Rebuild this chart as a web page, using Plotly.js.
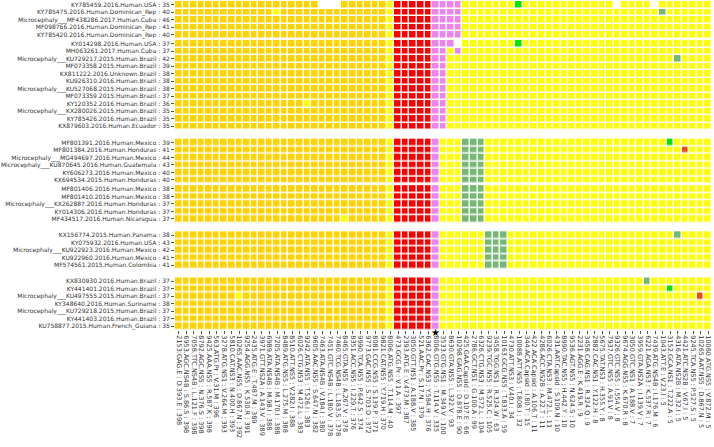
<!DOCTYPE html>
<html><head><meta charset="utf-8">
<script src="https://cdn.plot.ly/plotly-3.0.1.min.js"></script>
<style>html,body{margin:0;padding:0;background:#fff}</style>
</head><body><div id="chart" style="width:714px;height:447px"></div>
<script>
// ---- DATA ----
const mutationLabels = [
"2153.GAG.E : D.393.E : 398","6953.AGC.NS4B : S.86.S : 398","7058.TTC.NS4B : L.121.F : 398","8792.AGC.NS5 : N.376.S : 398",
"9425.AAA.NS5 : R.587.K : 398","563.ATG.Pr : V.31.M : 396","3278.ATG.NS1 : V.264.M : 393","5810.CAT.NS3 : N.400.H : 393",
"10265.AAC.NS5 : D.867.N : 392","9254.AGG.NS5 : K.530.R : 391","2435.ATG.E : T.487.M : 389","3971.GTT.NS2A : A.143.V : 389",
"6989.ATA.NS4B : M.98.I : 388","7205.ATA.NS4B : M.170.I : 388","8489.ATG.NS5 : L.275.M : 388","8510.ATT.NS5 : V.282.I : 388",
"6026.CTG.NS3 : M.472.L : 383","9242.ATA.NS5 : T.526.I : 383","9605.AAC.NS5 : S.647.N : 382","7463.ATA.NS4B : V.184.I : 380",
"7451.GTC.NS4B : L.180.V : 378","7460.TCG.NS4B : L.183.S : 378","8465.GTA.NS5 : A.267.V : 378","8351.ACC.NS5 : I.229.T : 376",
"9990.TCA.NS5 : P.642.S : 374","9773.GAC.NS5 : S.703.D : 372","8081.CCG.NS5 : S.139.P : 371","9821.CAT.NS5 : Y.719.H : 370",
"8006.ATG.NS5 : T.114.M : 40","473.GCG.Pr : V.1.A : 397","2393.ATG.E : V.473.M : 387","3050.GTT.NS1 : A.188.V : 385",
"521.AAC.Pr : S.17.N : 379","6362.CAC.NS3 : Y.584.H : 376","8006.GTG.NS5 : T.114.V : 335","3533.GTG.NS1 : M.349.V : 100",
"8630.GTA.NS5 : L.322.V : 93","10298.GAG.NS5 : D.878.E : 90","425.GAA.Capsid : D.107.E : 66","2786.GCT.NS1 : G.100.A : 99",
"6326.CTG.NS3 : M.572.L : 104","9239.TGC.NS5 : R.525.C : 105","3458.TGG.NS1 : R.324.W : 63","10163.GCG.NS5 : T.833.A : 59",
"4730.ATT.NS3 : V.40.I : 34","10088.ATT.NS5 : T.808.I : 32","344.ACA.Capsid : I.80.T : 15","422.ACA.Capsid : A.106.T : 11",
"4286.ACC.NS2B : A.22.T : 11","6026.CTA.NS3 : M.472.L : 11","431.AAT.Capsid : S.109.N : 10","8990.TAC.NS5 : H.442.Y : 10",
"9536.AGT.NS5 : N.624.S : 10","2231.AGG.E : K.419.R : 9","3458.CAG.NS1 : R.324.Q : 9","2882.CAC.NS1 : Y.122.H : 8",
"5675.TAT.NS3 : H.355.Y : 8","7937.GTC.NS5 : A.91.V : 8","9326.GTC.NS5 : I.554.V : 8","9674.AGG.NS5 : K.670.R : 8",
"3050.GTC.NS1 : A.188.V : 7","3959.GTA.NS2A : I.139.V : 7","6221.AGA.NS3 : K.537.R : 7","7439.ATG.NS4B : I.176.M : 6",
"1043.ATT.E : V.23.I : 5","3152.GCA.NS1 : T.222.A : 5","4316.ATA.NS2B : M.32.I : 5","4421.ATC.NS2B : V.67.I : 5",
"9245.TCA.NS5 : P.527.S : 5","10265.AAT.NS5 : D.867.N : 5","10080.ATG.NS5 : V.872.M : 5"
];
const starredMutation = "8006.GTG.NS5 : T.114.V : 335";

const sampleLabels = [
"KY785459.2016.Human.USA : 35","KY785475.2016.Human.Dominican_Rep : 40","Microcephaly___MF438286.2017.Human.Cuba : 46",
"MF098766.2016.Human.Dominican_Rep : 41","KY785420.2016.Human.Dominican_Rep : 40",
"KY014298.2016.Human.USA : 37","MH063261.2017.Human.Cuba : 37","Microcephaly___KU729217.2015.Human.Brazil : 42",
"MF073358.2015.Human.Brazil : 39","KX811222.2016.Unknown.Brazil : 38","KU926310.2016.Human.Brazil : 38",
"Microcephaly___KU527068.2015.Human.Brazil : 38","MF073359.2015.Human.Brazil : 37","KY120352.2016.Human.Brazil : 36",
"Microcephaly___KX280026.2015.Human.Brazil : 35","KY785426.2016.Human.Brazil : 35","KX879603.2016.Human.Ecuador : 35",
"MF801391.2016.Human.Mexico : 39","MF801384.2016.Human.Honduras : 41","Microcephaly___MG494697.2016.Human.Mexico : 44",
"Microcephaly___KU870645.2016.Human.Guatemala : 43","KY606273.2016.Human.Mexico : 40","KX694534.2015.Human.Honduras : 40",
"MF801406.2016.Human.Mexico : 38","MF801410.2016.Human.Mexico : 38","Microcephaly___KX262887.2016.Human.Honduras : 37",
"KY014306.2016.Human.Honduras : 37","MF434517.2016.Human.Nicaragua : 37",
"KX156774.2015.Human.Panama : 38","KY075932.2016.Human.USA : 43","Microcephaly___KU922923.2016.Human.Mexico : 42",
"KU922960.2016.Human.Mexico : 41","MF574561.2015.Human.Colombia : 41",
"KX830930.2016.Human.Brazil : 37","KY441401.2016.Human.Brazil : 37","Microcephaly___KU497555.2015.Human.Brazil : 37",
"KY348640.2016.Human.Suriname : 38","Microcephaly___KU729218.2015.Human.Brazil : 37","KY441403.2016.Human.Brazil : 37",
"KU758877.2015.Human.French_Guiana : 35"
];
const clusterSizes = [5, 12, 6, 5, 5, 7];

// cell states per sample, 71 mutations each (spaces only for readability, every 10 columns)
// G=gold Y=yellow R=red V=violet L=bright green g=muted green O=orange-red W=empty
const cellStates = [
"GGGGGGGGGG GGGGGGGGGW WWGGGGGGYR RRRRVVVVYY YYYYYLYYYY YYYYYYYYWY YYYWYYYYYY Y",
"GGGGGGGGGG GGGYGGGGGG GGGGGGGGYR RRRRVVVVYY YYYYYYYYYY YYYYYYYYYY YYYYgYYYYY Y",
"GGGGGGGGGG GGGGGGGGGG GGGGGGGGYR RRRRVVVVYY YYYYYYYYYY YYYYYYYYYY YYYYYYYYYY Y",
"GGGGGGGGGG GGGGGGGGGG GGGGGGGGYR RRRRVVVVYY YYYYYYYYYY YYYYYYYYYY YYYYYYYYYY Y",
"GGGGGGGGGG GGGGGGGGGG GGGGGGGGYR RRRRVVVVYY YYYYYYYYYY YYYYYYYYYY YYYYYYYYYY Y",
"GGGGGGGGGG GGGGGGGGGG GGGGGGGGYR RRRRVVVWYY YYYYYLYYYY YYYYYYYYYY YYYYYYYYYY Y",
"GGGGGGGGGG GGGGGGGGGG GGGGGGGGYR RRRRVVYVYY YYYYYYYYYY YYYYYYYYYY YYYYYYYYYY Y",
"GGGGGGGGGG GGGGGGGGGG GGGGGGGGYR RRRRVVYYYY YYYYYYYYYY YYYYYYYYYY YYYYYYgYYY Y",
"GGGGGGGGGG GGGGGGGGGG GGGGGGGGYR RRRRVVYYYY YYYYYYYYYY YYYYYYYYYY YYYYYYYYYY Y",
"GGGGGGGGGG GGGGGGGGGG GGGGGGGGYR RRRRVVYYYY YYYYYYYYYY YYYYYYYYYY YYYYYYYYYY Y",
"GGGGGGGGGG GGGGGGGGGG GGGGGGGGYR RRRRVVYYYY YYYYYYYYYY YYYYYYYYYY YYYYYYYYYY Y",
"GGGGGGGGGG GGGGGGGGGG GGGGGGGGYR RRRRVVYYYY YYYYYYYYYY YYYYYYYYYY YYYYYYYYYY Y",
"GGGGGGGGGG GGGGGGGGGG GGGGGGGGYR RRRRVVYYYY YYYYYYYYYY YYYYYYYYYY YYYYYYYYYY Y",
"GGGGGGGGGG GGGGGGGYGG GGGGGGGGYR RRRRVVYYYY YYYYYYYYYY YYYYYYYYYY YYYYYYYYYY Y",
"GGGGGGGGGG GGGGGGGGGG GGGGGGGGYR RRRRVVYYYY YYYYYYYYYY YYYYYYYYYY YYYYYYYYYY Y",
"GGGGGGGGGG GGGGGGGGGG GGGGGGGGYR RRRRVVYYYY YYYYYYYYYY YYYYYYYYYY YYYYYYYYYY Y",
"GGGGGGGGGG GGGGGGGGGG GGGGGGGGYR RRRRVVYYYY YYYYYYYYYY YYYYYYYYYY YYYYYYYYYY Y",
"GGGGGGGGGG GGGGGGGGGG GGGGGGGGYR RRRRVYYYgg gYYYYYYYYY YYYYYYYYYY YYYYYLYYYY Y",
"GGGGGGGGGG GGGGGGGGGG GGGGGGGGYR RRRRVYYYgg gYYYYYYYYY YYYYYYYYYY YYYYYYYOYY Y",
"GGGGGGGGGG GGGGGGGGGG GGGGGGGGYR RRRRVYYYgg gYYYYYYYYY YYYYYYYYYY YYYYYYYYYY Y",
"GGGGGGGGGG GGGGGGGGGG GGGGGGGGYR RRRRVYYYgg gYYYYYYYYY YYYYYYYYYY YYYYYYYYYY Y",
"GGGGGGGGGG GGGGGGGGGG GGGGGGGGYR RRRRVYYYgg gYYYYYYYYY YYYYYYYYYY YYYYYYYYYY Y",
"GGGGGGGGGG GGGGGGGGGG GGGGGGGGYR RRRRVYYYgg gYYYYYYYYY YYYYYYYYYY YYYYYYYYYY Y",
"GGGGGGGGGG GGGGGGGGGG GGGGGGGGYR RRRRVYYYgg gYYYYYYYYY YYYYYYYYYY YYYYYYYYYY Y",
"GGGGGGGGGG GGGGGGGGGG GGGGGGGGYR RRRRVYYYgg gYYYYYYYYY YYYYYYYYYY YYYYYYYYYY Y",
"GGGGGGGGGG GGGGGGGGGG GGGGGGGGYR RRRRVYYYgg gYYYYYYYYY YYYYYYYYYY YYYYYYYYYY Y",
"GGGGGGGGGG GGGGGGGGGG GGGGGGGGYR RRRRVYYYgg gYYYYYYYYY YYYYYYYYYY YYYYYYYYYY Y",
"GGGGGGGGGG GGGGGGGGGG GGYGGGGGYR RRRRVYYYgg gYYYYYYYYY YYYYYYYYYY YYYYYYYYYY Y",
"GGGGGGGGGG GGGGGGGGGG GGGGGGGGYR RRRRVYYYYY YgggYYYYYY YYYYYYYYYY YYYYYYgYYY Y",
"GGGGGGGGGG GGGGGGGGGG GGGGGGGGYR RRRRVYYYYY YgggYYYYYY YYYYYYYYYY YYYYYYYYYY Y",
"GGGGGGGGGG GGGGGGGGGG GGGGGGGGYR RRRRVYYYYY YgggYYYYYY YYYYYYYYYY YYYYYYYYYY Y",
"GGGGGGGGGG GGGGGGGGGG GGGGGGGGYR RRRRVYYYYY YgggYYYYYY YYYYYYYYYY YYYYYYYYYY Y",
"GGGGGGGGGG GGGGGGGGGG GGGGGGGGYR RRRRVYYYYY YgggYYYYYY YYYYYYYYYY YYYYYYYYYY Y",
"GGGGGGGGGG GGGGGGGGGG GGGGGGGGYR RRRRVYYYYY YYYYYYYYYY YYYYYYYYYY YYgYYYYYYY Y",
"GGGGGGGGGG GGGGGGGGGG GGGGGGGGYR RRRRVYYYYY YYYYYYYYYY YYYYYYYYYY YYYYYLYYYY Y",
"GGGGGGGGYG GGGGGGGGGG GGGGGGGGYR RRRRVYYYYY YYYYYYYYYY YYYYYYYYYY YYYYYYYYYO Y",
"GGGGGGGGGG GGGGGGGGGG GGGGGGGGYR RRRRVYYYYY YYYYYYYYYY YYYYYYYYYY YYYYYYYYYY Y",
"GGGGGGGGGG GGGGGGGGGG GGGGGGGGYR RRRRVYYYYY YYYYYYYYYY YYYYYYYYYY YYYYYYYYYY Y",
"GGGGGGGGGG GGGGGGGGGG GGGGGGGGYR RRRRVYYYYY YYYYYYYYYY YYYYYYYYYY YYYYYYYYYY Y",
"GGGGGGGGGG GGGGGGGGGG GGGGGGGGYR RRRRVYYYYY YYYYYYYYYY YYYYYYYYYY YYYYYYYYYY Y"
];
const stateCodes = ["W","G","Y","R","V","L","g","O"];
const stateColors = ["#ffffff","#ffd200","#ffff00","#ff0000","#ee82ee","#00e600","#74b874","#f24a12"];

// ---- LAYOUT helpers (positions, not data) ----
const clusterGapsAfter = [0.2, 1.15, 0.2, 1.15, 1.15]; // extra spacing between clusters (in rows)

const ncodes = stateCodes.length;
const colorscale = [];
stateColors.forEach((c, k) => { colorscale.push([k / ncodes, c]); colorscale.push([(k + 1) / ncodes, c]); });

const traces = [];
const tickvals = [], ticktext = [];
let rowIdx = 0, pos = 0;
clusterSizes.forEach((n, ci) => {
  const ys = [], zs = [];
  for (let i = 0; i < n; i++) {
    const s = cellStates[rowIdx].replace(/ /g, "");
    zs.push(s.split("").map(ch => stateCodes.indexOf(ch)));
    ys.push(pos);
    tickvals.push(pos); ticktext.push(sampleLabels[rowIdx]);
    rowIdx++; pos += 1;
  }
  if (ci < clusterGapsAfter.length) pos += clusterGapsAfter[ci];
  traces.push({
    type: "heatmap", x: mutationLabels, y: ys, z: zs,
    colorscale: colorscale, zmin: -0.5, zmax: ncodes - 0.5, showscale: false,
    xgap: 1.5, ygap: 1.5, hoverinfo: "skip"
  });
});
const ymax = pos - 1;

const font = {family: "DejaVu Sans, Verdana, sans-serif", size: 6, color: "#333"};
const layout = {
  width: 714, height: 447,
  margin: {l: 175, r: 2, t: 1, b: 117, pad: 0},
  paper_bgcolor: "#fff", plot_bgcolor: "#fff",
  showlegend: false,
  xaxis: {type: "category", categoryarray: mutationLabels, tickangle: 90,
    tickmode: "array", tickvals: mutationLabels, ticktext: mutationLabels,
    ticks: "outside", ticklen: 3, tickwidth: 1, tickcolor: "#555",
    tickfont: Object.assign({}, font, {size: 6.5}), showgrid: false, zeroline: false, showline: false, automargin: false},
  yaxis: {range: [ymax + 0.5, -0.5], tickmode: "array", tickvals: tickvals, ticktext: ticktext,
    ticks: "outside", ticklen: 3, tickwidth: 1, tickcolor: "#555",
    tickfont: font, showgrid: false, zeroline: false, showline: false, automargin: false},
  annotations: [{x: starredMutation, xref: "x", y: 0, yref: "paper", text: "★", showarrow: false,
    yanchor: "middle", yshift: -2, font: {size: 10, color: "#000"}}]
};
Plotly.newPlot("chart", traces, layout, {staticPlot: true, displayModeBar: false});
</script>
</body></html>
